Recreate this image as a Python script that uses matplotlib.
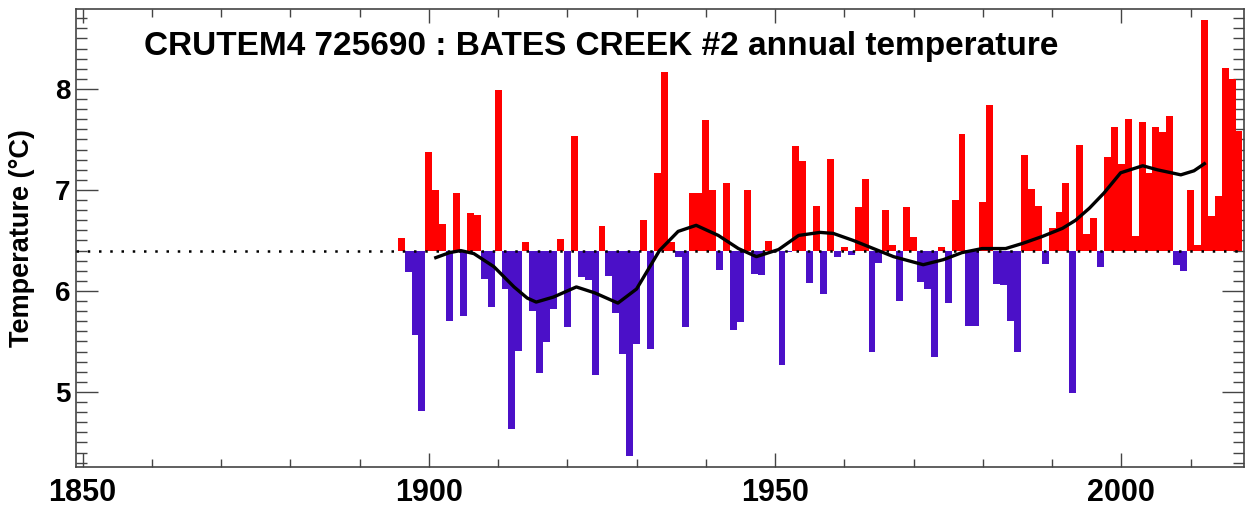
import numpy as np
import matplotlib.pyplot as plt
from matplotlib.ticker import MultipleLocator

plt.rcParams['font.family'] = ['Liberation Sans', 'DejaVu Sans']

# annual mean temperature, 1896-2017
years = list(range(1896, 2018))
temps = [6.52, 6.19, 5.56, 4.81, 7.38, 7.00, 6.66, 5.70, 6.97, 5.75,
         6.77, 6.75, 6.12, 5.84, 7.99, 6.02, 4.63, 5.41, 6.48, 5.80,
         5.19, 5.49, 5.82, 6.51, 5.64, 7.53, 6.14, 6.11, 5.17, 6.64,
         6.15, 5.78, 5.38, 4.37, 5.47, 6.70, 5.43, 7.17, 8.17, 6.48,
         6.34, 5.64, 6.97, 6.97, 7.69, 7.00, 6.21, 7.07, 5.61, 5.69,
         7.00, 6.17, 6.16, 6.49, 6.40, 5.27, 6.39, 7.44, 7.29, 6.08,
         6.84, 5.97, 7.31, 6.34, 6.44, 6.36, 6.83, 7.11, 5.40, 6.28,
         6.80, 6.46, 5.90, 6.83, 6.53, 6.09, 6.02, 5.35, 6.44, 5.88,
         6.90, 7.55, 5.65, 5.65, 6.88, 7.84, 6.07, 6.06, 5.70, 5.40,
         7.35, 7.01, 6.84, 6.27, 6.62, 6.78, 7.07, 4.99, 7.45, 6.56,
         6.72, 6.24, 7.33, 7.62, 7.26, 7.70, 6.54, 7.67, 7.17, 7.62,
         7.57, 7.73, 6.26, 6.20, 7.00, 6.46, 8.68, 6.74, 6.94, 8.21,
         8.10, 7.58]

# smoothed curve
smooth_x = [1901.0, 1903.0, 1904.6, 1906.5, 1909.4, 1912.3, 1914.2, 1915.5,
            1918.0, 1921.3, 1924.0, 1927.3, 1930.0, 1933.3, 1936.0, 1938.6,
            1941.8, 1944.7, 1947.3, 1950.5, 1953.4, 1956.5, 1958.4, 1961.3,
            1964.2, 1967.1, 1971.4, 1974.3, 1977.0, 1979.9, 1983.3, 1985.7,
            1988.6, 1991.5, 1993.4, 1995.4, 1997.5, 1999.9, 2003.1, 2005.2,
            2008.6, 2010.5, 2012.0]
smooth_y = [6.33, 6.38, 6.40, 6.37, 6.24, 6.04, 5.93, 5.89,
            5.94, 6.04, 5.98, 5.88, 6.02, 6.40, 6.59, 6.65,
            6.55, 6.42, 6.34, 6.41, 6.55, 6.58, 6.57, 6.50,
            6.42, 6.34, 6.26, 6.31, 6.38, 6.42, 6.42, 6.47,
            6.54, 6.62, 6.70, 6.82, 6.97, 7.17, 7.24, 7.20,
            7.15, 7.19, 7.26]

base = 6.4

fig = plt.figure(figsize=(12.49, 5.12), dpi=100)
ax = fig.add_axes([0.0608, 0.0879, 0.9348, 0.8945])

temps = np.array(temps)
cols = ['#ff0000' if t > base else '#4b10c8' for t in temps]
ax.bar(years, temps - base, bottom=base, width=1.0, color=cols, linewidth=0, zorder=2)

ax.axhline(base, color='black', linestyle=(0, (1, 3.5)), linewidth=1.8, zorder=3)
ax.plot(smooth_x, smooth_y, color='black', linewidth=2.4, zorder=4)

ax.set_xlim(1849.03, 2017.65)
ax.set_ylim(4.257, 8.792)
ax.xaxis.set_major_locator(MultipleLocator(50))
ax.xaxis.set_minor_locator(MultipleLocator(10))
ax.yaxis.set_major_locator(MultipleLocator(1))
ax.yaxis.set_minor_locator(MultipleLocator(0.1))

ax.tick_params(which='both', direction='in', top=True, right=True, color='#444444')
ax.tick_params(axis='y', which='major', length=16, width=1)
ax.tick_params(axis='y', which='minor', length=8, width=1)
ax.tick_params(axis='x', which='major', length=10, width=1)
ax.tick_params(axis='x', which='minor', length=6, width=1)
ax.tick_params(axis='x', pad=8)
ax.tick_params(axis='y', pad=4)
for lab in ax.get_xticklabels():
    lab.set_fontweight('bold')
    lab.set_fontsize(22)
for lab in ax.get_yticklabels():
    lab.set_fontweight('bold')
    lab.set_fontsize(20)
for s in ax.spines.values():
    s.set_color('#444444')
    s.set_linewidth(1.2)

ax.set_ylabel('Temperature (°C)', fontsize=19.5, fontweight='bold', labelpad=14)
ax.text(0.45, 0.919, 'CRUTEM4 725690 : BATES CREEK #2 annual temperature',
        transform=ax.transAxes, ha='center', va='center',
        fontsize=24, fontweight='bold')

fig.savefig('out.png', dpi=100)
